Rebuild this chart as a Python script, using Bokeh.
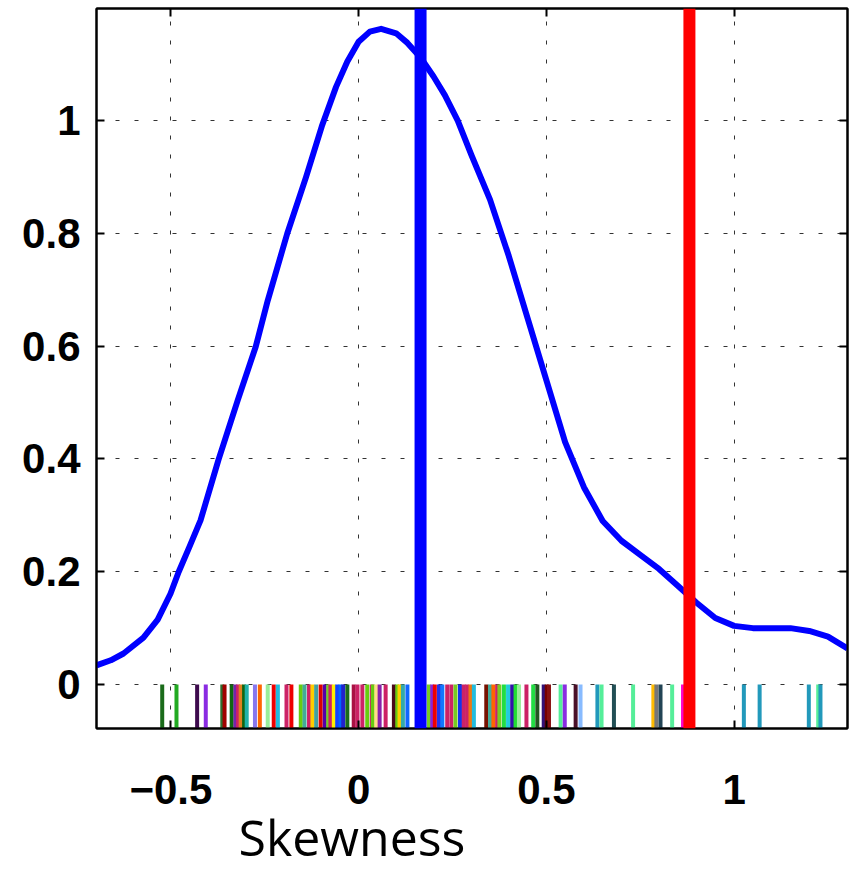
from bokeh.plotting import figure
from bokeh.models import Range1d, FixedTicker, LinearAxis, Span, Title, ColumnDataSource
from bokeh.embed import file_html
from bokeh.resources import INLINE

# ---- data ----
x_ticks = [-0.5, 0, 0.5, 1]
x_tick_labels = ["\u22120.5", "0", "0.5", "1"]
y_ticks = [0, 0.2, 0.4, 0.6, 0.8, 1]
y_tick_labels = ["0", "0.2", "0.4", "0.6", "0.8", "1"]

curve_x = [-0.698, -0.66, -0.626, -0.573, -0.535, -0.501, -0.479, -0.45, -0.421, -0.373, -0.322,
           -0.274, -0.242, -0.19, -0.14, -0.098, -0.06, -0.03, 0.0, 0.03, 0.06, 0.10, 0.13,
           0.165, 0.20, 0.23, 0.264, 0.30, 0.35, 0.40, 0.45, 0.50, 0.55, 0.60, 0.65, 0.70,
           0.75, 0.80, 0.85, 0.90, 0.95, 1.00, 1.05, 1.10, 1.15, 1.20, 1.25, 1.302]
curve_y = [0.034, 0.043, 0.055, 0.083, 0.115, 0.161, 0.200, 0.245, 0.291, 0.399, 0.504,
           0.599, 0.681, 0.80, 0.90, 0.99, 1.06, 1.105, 1.14, 1.158, 1.163, 1.155, 1.138,
           1.112, 1.078, 1.045, 1.000, 0.94, 0.86, 0.76, 0.65, 0.54, 0.43, 0.35, 0.29, 0.255,
           0.23, 0.205, 0.175, 0.145, 0.118, 0.104, 0.100, 0.100, 0.100, 0.095, 0.085, 0.064]

rug_x = [-0.523, -0.485, -0.430, -0.407, -0.363, -0.357, -0.338, -0.328, -0.321, -0.314,
         -0.305, -0.298, -0.276, -0.263, -0.242, -0.226, -0.215, -0.192, -0.179, -0.154,
         -0.144, -0.132, -0.123, -0.113, -0.101, -0.090, -0.081, -0.075, -0.066, -0.057,
         -0.048, -0.041, -0.030, -0.013, -0.003, 0.010, 0.023, 0.035, 0.038, 0.047,
         0.056, 0.072, 0.094, 0.103, 0.109, 0.118, 0.130, 0.187, 0.196, 0.203,
         0.214, 0.223, 0.236, 0.247, 0.258, 0.270, 0.280, 0.289, 0.298, 0.307,
         0.340, 0.350, 0.359, 0.369, 0.375, 0.387, 0.398, 0.409, 0.418, 0.427,
         0.447, 0.465, 0.476, 0.493, 0.501, 0.507, 0.538, 0.549, 0.578, 0.591,
         0.636, 0.647, 0.680, 0.731, 0.785, 0.793, 0.804, 0.835, 0.864, 1.026,
         1.068, 1.199, 1.224, 1.230]
rug_colors = ["#1a6b1a", "#22aa22", "#3d0a4d", "#8a2be2", "#2e6b2e", "#a00000", "#116611", "#7722aa", "#cc2266", "#e08020",
              "#116611", "#20b2aa", "#8877ee", "#ff6600", "#99ee99", "#ee0000", "#22bbdd", "#cc2266", "#ee0000", "#66cc11",
              "#44aa99", "#cc2266", "#ffcc00", "#44a0a0", "#dd0000", "#5500aa", "#77cc22", "#cc2266", "#ffee00", "#1144ff",
              "#0066ff", "#2222cc", "#1a6b1a", "#aa1144", "#cc2266", "#cc2266", "#66cc11", "#cc2266", "#66cc11", "#ffdd88",
              "#8822aa", "#cc2266", "#4a0a1a", "#66cc11", "#ffcc00", "#33aaaa", "#1166ff", "#77cc22", "#8822dd", "#ee0000",
              "#2233ee", "#1177ff", "#cc2266", "#cc2266", "#77cc22", "#1133ee", "#cc2266", "#cc2266", "#ee7711", "#22bbdd",
              "#771100", "#44aa99", "#ff6600", "#cc2266", "#77cc22", "#22dd44", "#22ccdd", "#3311aa", "#22dd33", "#99ee99",
              "#cc2266", "#22dd44", "#225522", "#331177", "#770000", "#881111", "#55ee99", "#8a2be2", "#4a1028", "#88bbff",
              "#2299bb", "#55ee99", "#224f55", "#55ee99", "#ffbb00", "#777777", "#224455", "#55ee99", "#ff00cc", "#2299bb",
              "#2299bb", "#2299bb", "#55ee99", "#2299bb"]
rug_top = 0.0
rug_bottom = -0.1

mean_skew = 0.165
obs_skew = 0.881

x_label = "Skewness"

# ---- figure ----
p = figure(frame_width=751, frame_height=720,
           x_range=Range1d(-0.698, 1.302), y_range=Range1d(-0.078, 1.199),
           output_backend="svg", toolbar_location=None,
           min_border_left=96, min_border_right=5, min_border_top=8, min_border_bottom=144,
           background_fill_color="white", border_fill_color="white")
p.outline_line_color = "black"
p.outline_line_width = 2

font = "Liberation Sans"

def style_axis(ax, ticks, labels=None):
    ax.ticker = FixedTicker(ticks=ticks)
    ax.major_tick_in = 8
    ax.major_tick_out = 0
    ax.minor_tick_line_color = None
    ax.axis_line_color = "black"
    ax.axis_line_width = 2
    ax.major_tick_line_color = "black"
    ax.major_tick_line_width = 2
    if labels is None:
        ax.major_label_overrides = {t: "" for t in ticks}
        ax.major_label_standoff = 0
    else:
        ax.major_label_overrides = {t: l for t, l in zip(ticks, labels)}
        ax.major_label_text_font = font
        ax.major_label_text_font_style = "bold"
        ax.major_label_text_font_size = "42px"
        ax.major_label_text_color = "black"

style_axis(p.xaxis[0], x_ticks, x_tick_labels)
p.xaxis[0].major_label_standoff = 46
style_axis(p.yaxis[0], y_ticks, y_tick_labels)
p.yaxis[0].major_label_standoff = 16

top_ax = LinearAxis()
style_axis(top_ax, x_ticks)
p.add_layout(top_ax, "above")
right_ax = LinearAxis()
style_axis(right_ax, y_ticks)
p.add_layout(right_ax, "right")

p.xgrid.ticker = FixedTicker(ticks=x_ticks)
p.ygrid.ticker = FixedTicker(ticks=y_ticks)
for g in (p.xgrid[0], p.ygrid[0]):
    g.grid_line_color = "#333333"
    g.grid_line_dash = "4 15"
    g.grid_line_width = 1

rug_src = ColumnDataSource(dict(x=rug_x, c=rug_colors))
p.segment(x0="x", y0=rug_top, x1="x", y1=rug_bottom, line_color="c", line_width=4, source=rug_src)

p.line(curve_x, curve_y, line_color="#0000ff", line_width=6, line_join="round")

p.add_layout(Span(location=mean_skew, dimension="height", line_color="#0000ff", line_width=12))
p.add_layout(Span(location=obs_skew, dimension="height", line_color="#ff0000", line_width=12))

p.add_layout(Title(text=x_label, align="left", offset=142, standoff=-12,
                   text_font="Open Sans", text_font_size="50px", text_font_style="normal",
                   text_color="black"), "below")

open("out.html", "w").write(file_html(p, INLINE))
